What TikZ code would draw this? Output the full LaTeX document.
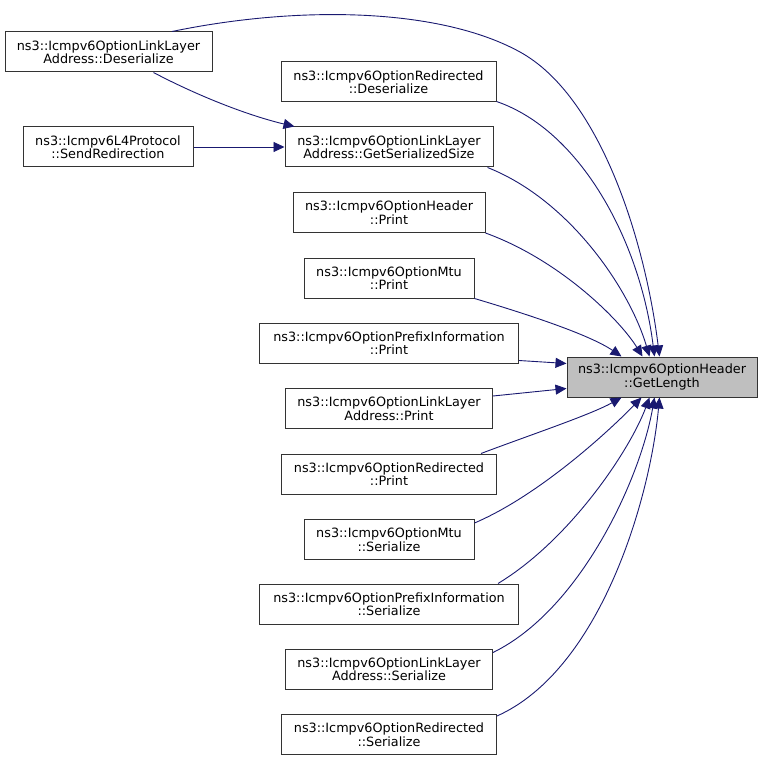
\documentclass[tikz,border=0pt]{standalone}
\usepackage{fontspec}
\setmainfont{DejaVu Sans}
\usetikzlibrary{arrows.meta}
\definecolor{edgecol}{HTML}{191970}
\definecolor{boxline}{HTML}{333333}
\definecolor{hilite}{HTML}{BFBFBF}
\tikzset{
  fn/.style={draw=boxline, line width=1pt, fill=white, align=center, inner sep=0pt,
    minimum height=40pt, font=\fontsize{12.8}{13.5}\selectfont},
  focus/.style={fn, fill=hilite},
  edge/.style={draw=edgecol, line width=0.9pt, -{Triangle[length=11pt,width=10pt]}}
}
\begin{document}
\begin{tikzpicture}[x=1pt,y=-1pt]
\useasboundingbox (0,0) rectangle (763,762);
% nodes
\node[fn, minimum width=207pt] (A) at (108.5,52) {ns3::Icmpv6OptionLinkLayer\\Address::Deserialize};
\node[fn, minimum width=170pt] (B) at (108,147) {ns3::Icmpv6L4Protocol\\::SendRedirection};
\node[fn, minimum width=215pt] (D) at (388.5,82) {ns3::Icmpv6OptionRedirected\\::Deserialize};
\node[fn, minimum width=208pt] (C) at (389,147) {ns3::Icmpv6OptionLinkLayer\\Address::GetSerializedSize};
\node[fn, minimum width=192pt] (HP) at (389,212.5) {ns3::Icmpv6OptionHeader\\::Print};
\node[fn, minimum width=170pt] (MP) at (389,278) {ns3::Icmpv6OptionMtu\\::Print};
\node[fn, minimum width=259pt] (PP) at (389,343) {ns3::Icmpv6OptionPrefixInformation\\::Print};
\node[fn, minimum width=207pt] (LP) at (389,408.5) {ns3::Icmpv6OptionLinkLayer\\Address::Print};
\node[fn, minimum width=215pt] (RP) at (389,474) {ns3::Icmpv6OptionRedirected\\::Print};
\node[fn, minimum width=170pt] (MS) at (389,539.5) {ns3::Icmpv6OptionMtu\\::Serialize};
\node[fn, minimum width=259pt] (PS) at (389,604) {ns3::Icmpv6OptionPrefixInformation\\::Serialize};
\node[fn, minimum width=207pt] (LS) at (389,669) {ns3::Icmpv6OptionLinkLayer\\Address::Serialize};
\node[fn, minimum width=215pt] (RS) at (389,734.5) {ns3::Icmpv6OptionRedirected\\::Serialize};
\node[focus, minimum width=190pt] (T) at (662,377) {ns3::Icmpv6OptionHeader\\::GetLength};
% edges into GetSerializedSize
\draw[edge] ([xshift=45pt]A.south) .. controls (200,97) and (250,116) .. ([xshift=10pt]C.north west);
\draw[edge] (B.east) -- (C.west);
% edges into target, top
\draw[edge] ([xshift=63.5pt]A.north) .. controls (300,5) and (440,8) .. (520,52)
  .. controls (600,96) and (645,240) .. ([xshift=93pt]T.north west);
\draw[edge] ([yshift=1pt]D.south east) .. controls (580,130) and (640,240) .. ([xshift=88pt]T.north west);
\draw[edge] ([xshift=-6pt]C.south east) .. controls (570,200) and (630,290) .. ([xshift=83pt]T.north west);
\draw[edge] (HP.south east) .. controls (560,260) and (620,320) .. ([xshift=76pt]T.north west);
\draw[edge] (MP.south east) .. controls (530,315) and (590,335) .. ([xshift=55pt]T.north west);
% straight edges
\draw[edge] ([yshift=3pt]PP.south east) -- ([yshift=-7pt]T.north west);
\draw[edge] ([yshift=-8pt]LP.north east) -- ([yshift=9pt]T.south west);
% edges into target, bottom
\draw[edge] ([xshift=-16pt]RP.north east) .. controls (530,435) and (590,415) .. ([xshift=55pt]T.south west);
\draw[edge] ([yshift=-4pt]MS.north east) .. controls (540,495) and (610,430) .. ([xshift=75pt]T.south west);
\draw[edge] ([xshift=-21pt]PS.north east) .. controls (570,540) and (630,450) .. ([xshift=83pt]T.south west);
\draw[edge] ([yshift=-4pt]LS.north east) .. controls (580,610) and (640,480) .. ([xshift=88pt]T.south west);
\draw[edge] ([yshift=-2pt]RS.north east) .. controls (600,670) and (650,500) .. ([xshift=93pt]T.south west);
\end{tikzpicture}
\end{document}
